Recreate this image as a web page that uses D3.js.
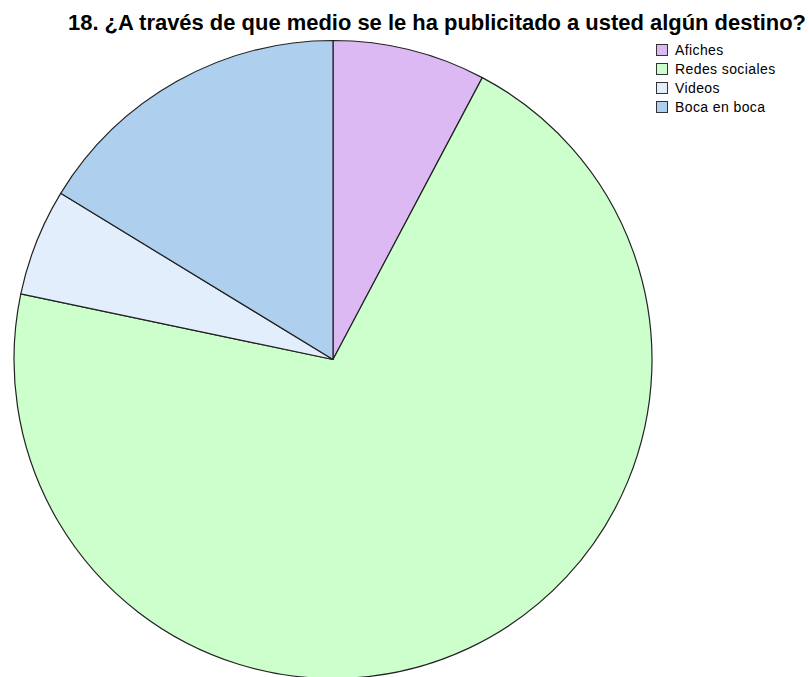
<!DOCTYPE html>
<html>
<head>
<meta charset="utf-8">
<script src="https://cdn.jsdelivr.net/npm/d3@7"></script>
<style>
  html, body { margin: 0; padding: 0; background: #ffffff; }
  svg { display: block; }
</style>
</head>
<body>
<svg id="chart" width="809" height="677"></svg>
<script>
// Survey responses, question 18
const categories = ["Afiches", "Redes sociales", "Videos", "Boca en boca"];
const counts = [10, 91, 7, 21];
const colors = ["#dcb9f2", "#ccffcc", "#e2eefb", "#aed0ee"];
const titleText = "18. ¿A través de que medio se le ha publicitado a usted algún destino?";

const svg = d3.select("#chart");
const cx = 333, cy = 359.5, radius = 319;

const color = d3.scaleOrdinal().domain(categories).range(colors);

const pie = d3.pie().sort(null).value(d => d.count);
const arc = d3.arc().innerRadius(0).outerRadius(radius);

const data = categories.map((c, i) => ({ category: c, count: counts[i] }));

svg.append("g")
  .attr("transform", `translate(${cx},${cy})`)
  .selectAll("path")
  .data(pie(data))
  .join("path")
  .attr("d", arc)
  .attr("fill", d => color(d.data.category))
  .attr("stroke", "#222")
  .attr("stroke-width", 1.2)
  .attr("stroke-linejoin", "round");

svg.append("text")
  .attr("x", 68)
  .attr("y", 30)
  .attr("font-family", "'Liberation Sans', Arial, sans-serif")
  .attr("font-weight", "bold")
  .attr("font-size", 22.5)
  .attr("textLength", 738)
  .attr("lengthAdjust", "spacingAndGlyphs")
  .attr("fill", "#000")
  .text(titleText);

const legend = svg.append("g").attr("transform", "translate(656,44)");
const rows = legend.selectAll("g")
  .data(categories)
  .join("g")
  .attr("transform", (d, i) => `translate(0,${i * 19})`);

rows.append("rect")
  .attr("x", 0.5).attr("y", 0.5)
  .attr("width", 11).attr("height", 11)
  .attr("fill", d => color(d))
  .attr("stroke", "#333")
  .attr("stroke-width", 1);

rows.append("text")
  .attr("x", 19)
  .attr("y", 11)
  .attr("font-family", "'Liberation Sans', Arial, sans-serif")
  .attr("font-size", 14)
  .attr("letter-spacing", 0.4)
  .attr("fill", "#000")
  .text(d => d);
</script>
</body>
</html>
